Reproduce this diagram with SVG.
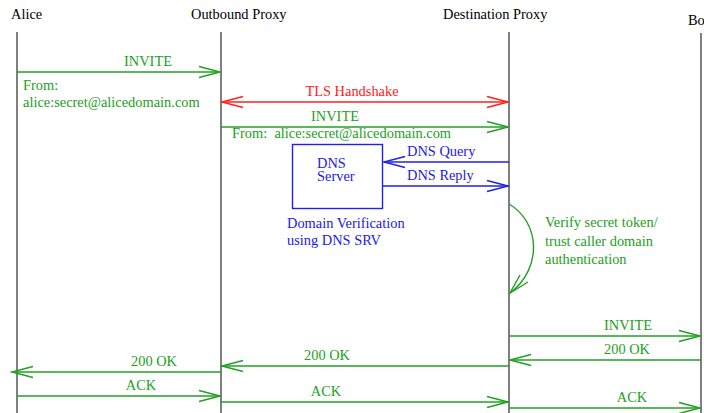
<svg xmlns="http://www.w3.org/2000/svg" width="704" height="413" viewBox="0 0 704 413">
  <style>
    text { font-family: "Liberation Serif", "Times New Roman", serif; font-size: 14.4px; }
    .hdr { fill: #000; }
    .g { fill: #22a022; }
    .r { fill: #ff2020; }
    .b { fill: #2020e6; }
    .life { stroke: #555; stroke-width: 1.5; }
    .gl { stroke: #22a022; stroke-width: 1.4; fill: none; }
    .rl { stroke: #ff2020; stroke-width: 1.4; fill: none; }
    .bl { stroke: #2020e6; stroke-width: 1.4; fill: none; }
    .mid { text-anchor: middle; }
  </style>
  <defs>
    <marker id="ag" markerUnits="userSpaceOnUse" viewBox="-22 -7 24 14" refX="0" refY="0" markerWidth="24" markerHeight="14" orient="auto-start-reverse">
      <path d="M-21,-5.5 L0,0 L-21,5.5" fill="none" stroke="#22a022" stroke-width="1.4"/>
    </marker>
    <marker id="ar" markerUnits="userSpaceOnUse" viewBox="-22 -7 24 14" refX="0" refY="0" markerWidth="24" markerHeight="14" orient="auto-start-reverse">
      <path d="M-21,-5.5 L0,0 L-21,5.5" fill="none" stroke="#ff2020" stroke-width="1.4"/>
    </marker>
    <marker id="ab" markerUnits="userSpaceOnUse" viewBox="-22 -7 24 14" refX="0" refY="0" markerWidth="24" markerHeight="14" orient="auto-start-reverse">
      <path d="M-21,-5.5 L0,0 L-21,5.5" fill="none" stroke="#2020e6" stroke-width="1.4"/>
    </marker>
  </defs>

  <rect width="704" height="413" fill="#fff"/>

  <!-- participants with lifelines -->
  <g id="alice">
    <text class="hdr" x="11" y="19">Alice</text>
    <line class="life" x1="17" y1="32" x2="17" y2="413"/>
  </g>
  <g id="outbound-proxy">
    <text class="hdr" x="191" y="19">Outbound Proxy</text>
    <line class="life" x1="221" y1="32" x2="221" y2="413"/>
  </g>
  <g id="destination-proxy">
    <text class="hdr" x="443" y="19">Destination Proxy</text>
    <line class="life" x1="509" y1="32" x2="509" y2="413"/>
  </g>
  <g id="bob">
    <text class="hdr" x="688" y="25">Bob</text>
    <line class="life" x1="701" y1="33" x2="701" y2="413"/>
  </g>

  <!-- DNS server -->
  <g id="dns-server">
    <rect x="292.5" y="144.5" width="90" height="64" fill="none" stroke="#2020e6" stroke-width="1.4"/>
    <text class="b" x="317" y="167.5">DNS</text>
    <text class="b" x="317" y="181">Server</text>
    <text class="b" x="287" y="228">Domain Verification</text>
    <text class="b" x="287" y="245">using DNS SRV</text>
  </g>

  <!-- messages -->
  <g id="connectors">
    <line class="gl" x1="17" y1="72" x2="220" y2="72" marker-end="url(#ag)"/>
    <text class="g mid" x="148" y="66">INVITE</text>
    <text class="g" x="23" y="90">From:</text>
    <text class="g" x="23" y="107">alice:secret@alicedomain.com</text>

    <line class="rl" x1="222" y1="102" x2="508" y2="102" marker-start="url(#ar)" marker-end="url(#ar)"/>
    <text class="r mid" x="352" y="96">TLS Handshake</text>

    <line class="gl" x1="221" y1="127" x2="508" y2="127" marker-end="url(#ag)"/>
    <text class="g mid" x="335" y="121">INVITE</text>
    <text class="g" x="232" y="138" xml:space="preserve">From:  alice:secret@alicedomain.com</text>

    <line class="bl" x1="509" y1="162" x2="384" y2="162" marker-end="url(#ab)"/>
    <text class="b" x="407" y="156">DNS Query</text>
    <line class="bl" x1="383" y1="186" x2="508" y2="186" marker-end="url(#ab)"/>
    <text class="b" x="407" y="180">DNS Reply</text>

    <path class="gl" d="M509,204 C540,222 543,268 510,293"/>
    <path class="gl" d="M520,275 L510,293 L528,282"/>
    <text class="g" x="545" y="227">Verify secret token/</text>
    <text class="g" x="545" y="246">trust caller domain</text>
    <text class="g" x="545" y="264">authentication</text>

    <line class="gl" x1="509" y1="336" x2="700" y2="336" marker-end="url(#ag)"/>
    <text class="g mid" x="628" y="330">INVITE</text>

    <line class="gl" x1="701" y1="360" x2="510" y2="360" marker-end="url(#ag)"/>
    <text class="g mid" x="627" y="354">200 OK</text>

    <line class="gl" x1="509" y1="366" x2="222" y2="366" marker-end="url(#ag)"/>
    <text class="g mid" x="327" y="360">200 OK</text>

    <line class="gl" x1="221" y1="372" x2="12" y2="372" marker-end="url(#ag)"/>
    <text class="g mid" x="154" y="366">200 OK</text>

    <line class="gl" x1="17" y1="396" x2="220" y2="396" marker-end="url(#ag)"/>
    <text class="g mid" x="141" y="390">ACK</text>

    <line class="gl" x1="221" y1="402" x2="508" y2="402" marker-end="url(#ag)"/>
    <text class="g mid" x="326" y="396">ACK</text>

    <line class="gl" x1="509" y1="408" x2="700" y2="408" marker-end="url(#ag)"/>
    <text class="g mid" x="632" y="402">ACK</text>
  </g>
</svg>
